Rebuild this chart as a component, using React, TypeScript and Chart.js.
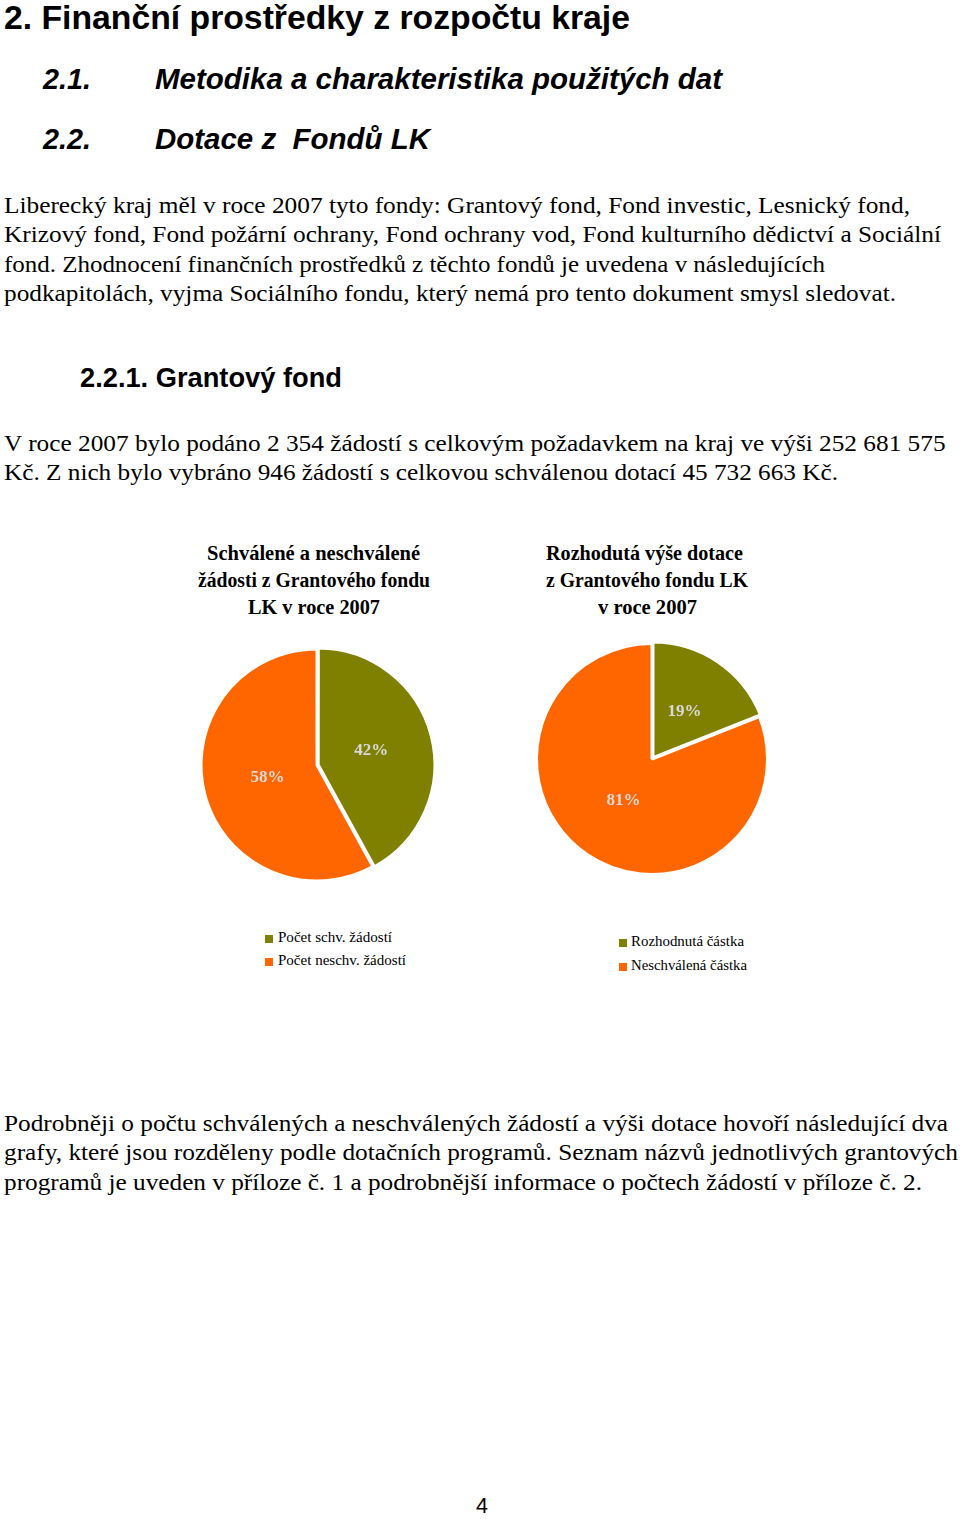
import React, { useEffect, useRef } from 'react';
import { Chart, registerables } from 'chart.js';

Chart.register(...registerables);

// ---- chart data ----
const countLabels = ['Počet schv. žádostí', 'Počet neschv. žádostí'];
const countShares = [42, 58];
const amountLabels = ['Rozhodnutá částka', 'Neschválená částka'];
const amountShares = [19, 81];
const sliceColors = ['#808000', '#ff6600'];
const countTitle = ['Schválené a neschválené', 'žádosti z Grantového fondu', 'LK v roce 2007'];
const amountTitle = ['Rozhodutá výše dotace', 'z Grantového fondu LK', 'v roce 2007'];

// ---- page text ----
const heading1 = '2. Finanční prostředky z rozpočtu kraje';
const heading21 = ['2.1.', 'Metodika a charakteristika použitých dat'];
const heading22 = ['2.2.', 'Dotace z  Fondů LK'];
const heading221 = '2.2.1. Grantový fond';
const para1 = [
  'Liberecký kraj měl v roce 2007 tyto fondy: Grantový fond, Fond investic, Lesnický fond,',
  'Krizový fond, Fond požární ochrany, Fond ochrany vod, Fond kulturního dědictví a Sociální',
  'fond. Zhodnocení finančních prostředků z těchto fondů je uvedena v následujících',
  'podkapitolách, vyjma Sociálního fondu, který nemá pro tento dokument smysl sledovat.',
];
const para2 = [
  'V roce 2007 bylo podáno 2 354 žádostí s celkovým požadavkem na kraj ve výši 252 681 575',
  'Kč. Z nich bylo vybráno 946 žádostí s celkovou schválenou dotací 45 732 663 Kč.',
];
const para3 = [
  'Podrobněji o počtu schválených a neschválených žádostí a výši dotace hovoří následující dva',
  'grafy, které jsou rozděleny podle dotačních programů. Seznam názvů jednotlivých grantových',
  'programů je uveden v příloze č. 1 a podrobnější informace o počtech žádostí v příloze č. 2.',
];
const pageNumber = '4';

const SERIF = '"Liberation Serif", "Times New Roman", serif';
const SANS = '"Liberation Sans", Arial, sans-serif';

let mctx: CanvasRenderingContext2D | null = null;
function measure(text: string, font: string) {
  if (!mctx) mctx = document.createElement('canvas').getContext('2d');
  mctx!.font = font;
  return mctx!.measureText(text).width;
}

function FitText(props: {
  text: string; x: number; right: number; base: number; size: number;
  family: string; weight?: string; italic?: boolean; color?: string; lh?: number;
}) {
  const { text, x, right, base, size, family, weight = 'normal', italic = false, color = '#000' } = props;
  const lh = (props.lh ?? 1) * size;
  const font = `${italic ? 'italic ' : ''}${weight} ${size}px ${family}`;
  const w = measure(text, font);
  const sx = w > 0 ? (right - x) / w : 1;
  const baseOffset = (lh - 1.107 * size) / 2 + 0.891 * size;
  return (
    <div
      style={{
        position: 'absolute',
        left: x,
        top: base - baseOffset,
        fontFamily: family,
        fontSize: size,
        fontWeight: weight as any,
        fontStyle: italic ? 'italic' : 'normal',
        lineHeight: `${lh}px`,
        height: lh,
        whiteSpace: 'pre',
        color,
        transform: `scaleX(${sx})`,
        transformOrigin: '0 0',
      }}
    >
      {text}
    </div>
  );
}

const pieLabelPlugin = {
  id: 'pieLabels',
  afterDatasetsDraw(chart: any) {
    const ctx = chart.ctx;
    const meta = chart.getDatasetMeta(0);
    const ds = chart.data.datasets[0];
    const total = ds.data.reduce((a: number, b: number) => a + b, 0);
    ctx.save();
    ctx.font = `bold 17px ${SERIF}`;
    ctx.fillStyle = '#d9d9d9';
    ctx.textAlign = 'center';
    ctx.textBaseline = 'middle';
    meta.data.forEach((arc: any, i: number) => {
      const { x, y, startAngle, endAngle, outerRadius } = arc.getProps(['x', 'y', 'startAngle', 'endAngle', 'outerRadius'], true);
      const mid = (startAngle + endAngle) / 2;
      const off = arc.options.offset || 0;
      const r = outerRadius * 0.44 + off;
      const pct = Math.round((ds.data[i] / total) * 100);
      ctx.fillText(`${pct}%`, x + Math.cos(mid) * r, y + Math.sin(mid) * r);
    });
    ctx.restore();
  },
};

function Pie(props: { left: number; top: number; size: number; radius: number; labels: string[]; values: number[]; offsets: number[] }) {
  const ref = useRef<HTMLCanvasElement>(null);
  useEffect(() => {
    const chart = new Chart(ref.current!, {
      type: 'pie',
      data: {
        labels: props.labels,
        datasets: [{
          data: props.values,
          backgroundColor: sliceColors,
          borderColor: '#ffffff',
          borderWidth: 3,
          offset: props.offsets,
        } as any],
      },
      options: {
        animation: false,
        responsive: false,
        devicePixelRatio: 1,
        radius: props.radius,
        layout: { padding: 0 },
        plugins: { legend: { display: false }, title: { display: false }, tooltip: { enabled: false } },
        events: [],
      } as any,
      plugins: [pieLabelPlugin],
    });
    return () => chart.destroy();
  }, []);
  return (
    <canvas
      ref={ref}
      width={props.size}
      height={props.size}
      style={{ position: 'absolute', left: props.left, top: props.top, width: props.size, height: props.size }}
    />
  );
}

function Legend(props: { x: number; textX: number; base: number[]; rights: number[]; labels: string[] }) {
  return (
    <>
      {props.labels.map((l, i) => (
        <React.Fragment key={i}>
          <div style={{ position: 'absolute', left: props.x, top: props.base[i] - 8, width: 8, height: 8, background: sliceColors[i] }} />
          <FitText text={l} x={props.textX} right={props.rights[i]} base={props.base[i]} size={15} family={SERIF} />
        </React.Fragment>
      ))}
    </>
  );
}

export default function App() {
  const countTitleX = [[207, 420], [198, 430], [248, 380]];
  const amountTitleX = [[546, 743], [546, 748], [598, 697]];
  const titleBase = [560, 587, 614];
  const para1Right = [910, 941, 825, 896];
  const para1Base = [213, 242.3, 271.6, 301];
  const para2Right = [946, 838];
  const para2Base = [451, 480.3];
  const para3Right = [948, 958, 922];
  const para3Base = [1131, 1160.3, 1189.6];
  return (
    <div style={{ position: 'absolute', left: 0, top: 0, width: 960, height: 1519, background: '#fff', overflow: 'hidden' }}>
      <FitText text={heading1} x={4} right={630} base={29} size={33} family={SANS} weight="bold" />
      <FitText text={heading21[0]} x={43} right={91} base={89} size={30} family={SANS} weight="bold" italic />
      <FitText text={heading21[1]} x={155} right={722} base={89} size={30} family={SANS} weight="bold" italic />
      <FitText text={heading22[0]} x={43} right={91} base={149} size={30} family={SANS} weight="bold" italic />
      <FitText text={heading22[1]} x={155} right={430} base={149} size={30} family={SANS} weight="bold" italic />
      {para1.map((t, i) => (
        <FitText key={'p1' + i} text={t} x={4} right={para1Right[i]} base={para1Base[i]} size={24} family={SERIF} />
      ))}
      <FitText text={heading221} x={80} right={342} base={388} size={27} family={SANS} weight="bold" />
      {para2.map((t, i) => (
        <FitText key={'p2' + i} text={t} x={4} right={para2Right[i]} base={para2Base[i]} size={24} family={SERIF} />
      ))}
      {countTitle.map((t, i) => (
        <FitText key={'ct' + i} text={t} x={countTitleX[i][0]} right={countTitleX[i][1]} base={titleBase[i]} size={20.5} family={SERIF} weight="bold" />
      ))}
      {amountTitle.map((t, i) => (
        <FitText key={'at' + i} text={t} x={amountTitleX[i][0]} right={amountTitleX[i][1]} base={titleBase[i]} size={20.5} family={SERIF} weight="bold" />
      ))}
      <Pie left={185.5} top={633.5} size={262} radius={116} labels={countLabels} values={countShares} offsets={[5, 0]} />
      <Pie left={521} top={628} size={262} radius={115.5} labels={amountLabels} values={amountShares} offsets={[7, 0]} />
      <Legend x={265} textX={278} base={[943, 966]} rights={[392, 406]} labels={countLabels} />
      <Legend x={619} textX={631} base={[947, 971]} rights={[744, 747]} labels={amountLabels} />
      {para3.map((t, i) => (
        <FitText key={'p3' + i} text={t} x={4} right={para3Right[i]} base={para3Base[i]} size={24} family={SERIF} />
      ))}
      <FitText text={pageNumber} x={476} right={488} base={1513} size={22} family={SANS} lh={0.8} />
    </div>
  );
}
